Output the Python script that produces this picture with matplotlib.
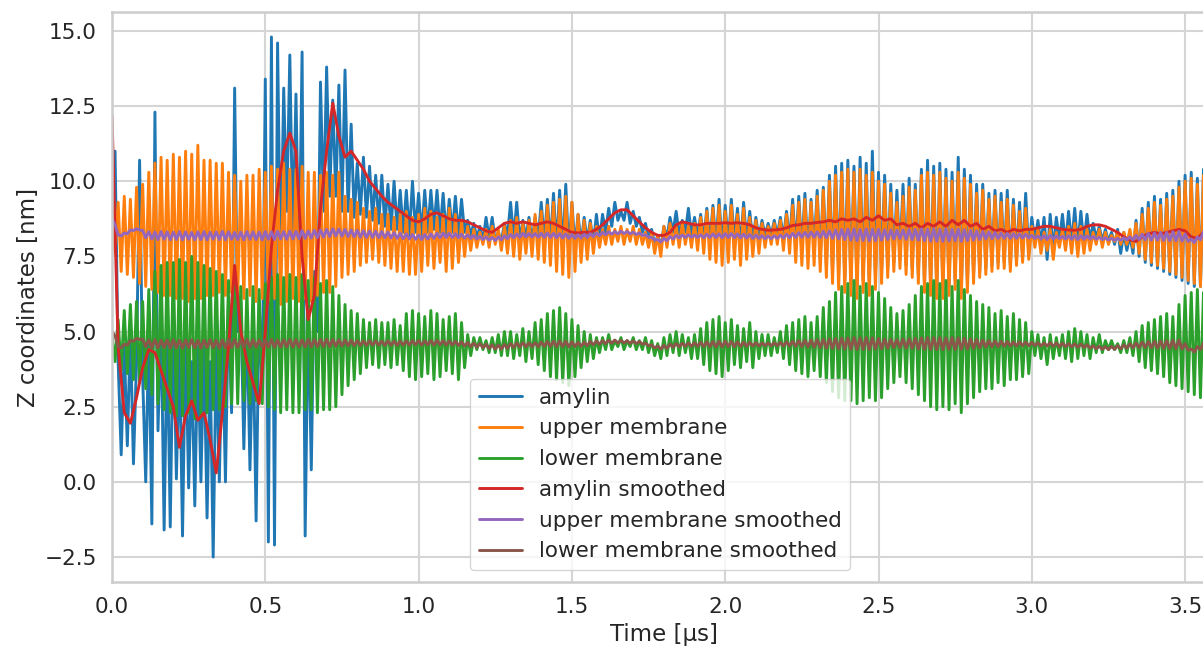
import numpy as np
import matplotlib
matplotlib.use("Agg")
import matplotlib.pyplot as plt
import seaborn as sns

# ---------------- data ----------------
dt = 0.01  # sampling step of the trajectory [µs]

# upper membrane: peak / trough value of every 0.02 µs oscillation cycle
upper_hi = [9.2, 9.3, 9.5, 9.4, 9.8, 9.9, 10.3, 10.6, 10.8, 10.7,
            10.9, 10.8, 11.0, 10.9, 11.2, 10.7, 10.7, 10.6, 10.6, 10.3,
            10.2, 10.0, 10.2, 10.2, 10.4, 10.3, 10.5, 10.4, 10.6, 10.4,
            10.4, 10.5, 10.3, 10.3, 10.2, 10.3, 10.2, 10.3, 9.5, 9.4,
            9.3, 9.1, 9.0, 9.1, 8.9, 8.9, 8.8, 8.9, 9.0, 8.8,
            8.9, 9.1, 9.0, 8.8, 8.9, 9.1, 8.9, 8.7, 8.5, 8.4,
            8.3, 8.4, 8.5, 8.4, 8.5, 8.7, 8.8, 8.6, 8.7, 8.9,
            9.0, 9.2, 9.3, 9.4, 9.5, 9.3, 8.9, 8.7, 8.6, 8.5,
            8.4, 8.5, 8.4, 8.5, 8.4, 8.5, 8.4, 8.3, 8.3, 8.2,
            8.5, 8.6, 8.5, 8.6, 8.5, 8.6, 8.8, 9.0, 9.1, 9.2,
            9.0, 9.2, 8.9, 9.1, 8.8, 8.7, 8.6, 8.5, 8.6, 8.7,
            8.9, 9.2, 9.3, 9.4, 9.3, 9.5, 9.7, 10.0, 10.2, 10.3,
            10.4, 10.3, 10.4, 10.2, 10.3, 10.0, 9.9, 9.6, 9.3, 9.5,
            9.8, 9.7, 10.2, 10.3, 10.2, 10.3, 10.1, 10.0, 10.3, 10.1,
            9.9, 9.6, 9.7, 9.4, 9.5, 9.3, 9.4, 9.2, 9.0, 9.1,
            8.5, 8.4, 8.3, 8.4, 8.3, 8.4, 8.5, 8.6, 8.5, 8.4,
            8.3, 8.4, 8.3, 8.2, 8.3, 8.3, 8.4, 8.6, 8.9, 9.1,
            9.3, 9.2, 9.4, 9.5, 9.8, 10.0, 10.1, 9.9, 10.2]
upper_lo = [7.6, 7.0, 6.9, 6.8, 6.6, 6.5, 6.4, 6.3, 6.2, 6.2,
            6.1, 6.1, 6.0, 6.1, 6.1, 6.2, 6.2, 6.3, 6.2, 6.3,
            6.2, 6.1, 6.2, 6.0, 6.1, 6.0, 6.1, 5.9, 6.0, 6.1,
            6.0, 6.1, 6.0, 6.2, 6.3, 6.3, 6.5, 6.8, 6.9, 7.0,
            7.2, 7.3, 7.4, 7.3, 7.2, 7.1, 7.0, 7.0, 6.9, 6.9,
            7.0, 7.2, 7.1, 7.3, 7.0, 7.1, 7.3, 7.5, 7.7, 7.8,
            7.9, 7.8, 7.9, 7.7, 7.6, 7.5, 7.4, 7.6, 7.5, 7.4,
            7.3, 7.2, 7.0, 6.9, 6.8, 7.0, 7.3, 7.4, 7.6, 7.8,
            7.9, 7.9, 8.0, 7.9, 8.0, 7.9, 7.9, 7.8, 7.6, 7.5,
            7.8, 7.9, 7.8, 7.9, 7.8, 7.7, 7.6, 7.4, 7.3, 7.2,
            7.3, 7.4, 7.2, 7.4, 7.5, 7.6, 7.8, 7.9, 7.9, 7.7,
            7.6, 7.3, 7.2, 7.1, 7.2, 7.0, 6.8, 6.6, 6.4, 6.3,
            6.2, 6.1, 6.3, 6.2, 6.4, 6.6, 6.8, 7.0, 7.1, 6.9,
            6.8, 6.6, 6.3, 6.2, 6.1, 6.1, 6.2, 6.4, 6.1, 6.3,
            6.6, 6.8, 6.9, 7.0, 7.1, 7.1, 7.0, 7.2, 7.3, 7.4,
            7.8, 7.6, 7.7, 7.4, 7.8, 7.7, 7.6, 7.5, 7.6, 7.7,
            7.9, 7.8, 7.9, 8.0, 7.9, 7.9, 7.8, 7.6, 7.4, 7.3,
            7.2, 7.1, 7.0, 6.9, 6.8, 6.7, 6.6, 6.5, 6.5]

# lower membrane
lower_hi = [4.9, 5.4, 5.7, 5.9, 6.0, 6.0, 6.4, 7.0, 7.2, 7.3,
            7.3, 7.4, 7.3, 7.5, 7.3, 7.2, 7.1, 7.0, 6.9, 6.7,
            6.6, 6.5, 6.4, 6.5, 6.4, 6.6, 6.8, 6.9, 6.8, 6.9,
            6.8, 6.9, 6.7, 6.8, 6.6, 6.7, 6.5, 6.2, 5.9, 5.7,
            5.6, 5.4, 5.3, 5.4, 5.3, 5.3, 5.4, 5.2, 5.6, 5.7,
            5.6, 5.5, 5.7, 5.6, 5.4, 5.5, 5.6, 5.3, 4.9, 4.8,
            4.8, 4.7, 4.8, 4.9, 5.0, 5.0, 4.9, 5.1, 5.0, 5.3,
            5.4, 5.6, 5.7, 5.8, 5.6, 5.4, 5.2, 5.0, 4.9, 4.8,
            4.8, 4.9, 4.7, 4.8, 4.7, 4.8, 4.7, 4.8, 4.7, 4.6,
            4.8, 4.9, 5.0, 4.9, 4.8, 4.9, 5.1, 5.3, 5.4, 5.5,
            5.3, 5.4, 5.2, 5.1, 5.3, 5.0, 4.9, 4.9, 4.8, 5.0,
            5.2, 5.3, 5.4, 5.5, 5.3, 5.5, 5.8, 6.0, 6.3, 6.5,
            6.6, 6.7, 6.5, 6.6, 6.5, 6.3, 6.1, 5.8, 5.6, 5.7,
            5.9, 6.2, 6.5, 6.6, 6.7, 6.6, 6.7, 6.5, 6.7, 6.4,
            6.2, 6.0, 5.9, 5.8, 5.6, 5.7, 5.5, 5.6, 5.4, 5.3,
            5.0, 4.9, 4.8, 4.9, 4.8, 4.9, 5.0, 5.1, 5.0, 4.9,
            4.8, 4.9, 4.7, 4.7, 4.6, 4.7, 4.8, 5.0, 5.2, 5.3,
            5.4, 5.5, 5.6, 5.5, 5.9, 6.2, 6.3, 6.4, 6.3]
lower_lo = [4.0, 3.7, 3.6, 3.4, 3.3, 3.1, 2.9, 2.6, 2.4, 2.3,
            2.2, 2.2, 2.3, 2.1, 2.2, 2.3, 2.4, 2.4, 2.5, 2.6,
            2.6, 2.7, 2.6, 2.7, 2.6, 2.5, 2.4, 2.3, 2.4, 2.3,
            2.3, 2.4, 2.4, 2.3, 2.4, 2.4, 2.5, 2.9, 3.2, 3.4,
            3.6, 3.8, 3.9, 3.8, 3.9, 3.8, 3.9, 3.7, 3.5, 3.4,
            3.5, 3.6, 3.4, 3.5, 3.7, 3.6, 3.4, 3.8, 4.2, 4.4,
            4.4, 4.3, 4.3, 4.2, 4.2, 4.1, 4.2, 4.0, 4.1, 3.9,
            3.7, 3.5, 3.4, 3.3, 3.2, 3.5, 3.8, 4.0, 4.1, 4.3,
            4.4, 4.4, 4.5, 4.4, 4.5, 4.4, 4.4, 4.3, 4.2, 4.1,
            4.2, 4.3, 4.2, 4.3, 4.1, 4.1, 3.9, 3.7, 3.6, 3.5,
            3.7, 3.9, 3.8, 4.0, 3.8, 4.1, 4.2, 4.2, 4.3, 4.1,
            3.9, 3.7, 3.6, 3.5, 3.7, 3.5, 3.3, 3.0, 2.8, 2.7,
            2.7, 2.6, 2.7, 2.8, 2.7, 2.8, 3.1, 3.3, 3.5, 3.3,
            3.1, 2.9, 2.7, 2.5, 2.4, 2.5, 2.4, 2.6, 2.3, 2.6,
            2.8, 3.0, 3.1, 3.1, 3.3, 3.2, 3.4, 3.4, 3.5, 3.6,
            4.2, 4.1, 3.9, 4.1, 4.2, 4.1, 4.0, 4.1, 4.2, 4.1,
            4.3, 4.3, 4.4, 4.4, 4.3, 4.3, 4.2, 4.0, 3.8, 3.7,
            3.6, 3.5, 3.3, 3.2, 3.1, 3.0, 2.9, 2.8, 2.8]

# amylin: first 0.8 µs sample by sample (irregular), afterwards peak / trough per cycle
amylin_early = [9.0, 11.0, 4.0, 0.9, 4.5, 1.2, 5.0, 0.6, 4.0, 10.7,
                3.5, 0.0, 5.0, -1.4, 12.3, 1.7, 5.5, -1.6, 5.0, -1.5,
                5.5, 0.1, 4.5, -1.8, 5.0, -0.2, 4.0, -0.8, 4.5, 0.0,
                4.5, -1.2, 4.0, -2.5, 4.5, 0.0, 5.0, 0.0, 6.0, 2.3,
                13.1, 5.0, 6.0, 1.1, 5.5, 0.4, 5.0, -1.3, 6.0, 3.0,
                13.4, -2.0, 14.8, -2.1, 14.6, 7.0, 13.1, 9.0, 14.2, 8.0,
                12.9, 7.0, 14.3, -1.8, 6.0, 0.4, 7.0, 5.0, 13.3, 9.0,
                13.8, 9.5, 12.7, 9.5, 13.2, 9.0, 13.7, 9.0, 11.9, 8.8]
amylin_hi = [10.6, 10.8, 10.5, 10.2, 10.2, 9.9, 10.0, 9.7, 9.7, 10.0,
             9.6, 9.7, 9.7, 9.7, 9.6, 9.4, 9.5, 9.4, 8.7, 8.6,
             8.5, 8.8, 8.8, 8.3, 8.6, 9.3, 9.3, 8.7, 8.8, 8.8,
             9.3, 9.4, 9.6, 9.7, 9.9, 9.3, 8.9, 8.8, 8.7, 8.9,
             8.9, 9.1, 9.3, 9.0, 9.3, 9.0, 8.8, 8.6, 8.4, 8.2,
             8.5, 8.8, 9.0, 8.7, 9.1, 8.8, 8.9, 9.1, 9.2, 9.4,
             9.2, 9.4, 9.1, 9.3, 9.0, 8.8, 8.7, 8.6, 8.7, 8.8,
             9.0, 9.4, 9.5, 9.6, 9.4, 9.7, 9.8, 10.2, 10.5, 10.6,
             10.7, 10.5, 10.8, 10.6, 11.0, 10.3, 10.2, 9.9, 9.7, 9.9,
             10.1, 9.9, 10.4, 10.7, 10.5, 10.6, 10.4, 10.3, 10.8, 10.4,
             10.2, 9.9, 9.9, 9.6, 9.7, 9.6, 9.7, 9.4, 9.3, 9.6,
             8.8, 8.7, 8.8, 8.9, 8.8, 8.9, 9.0, 9.1, 9.0, 8.9,
             8.6, 8.5, 8.4, 8.3, 8.4, 8.3, 8.2, 8.7, 9.1, 9.3,
             9.5, 9.4, 9.6, 9.7, 10.0, 10.2, 10.3, 10.1, 10.4]
amylin_lo = [8.9, 8.8, 8.7, 8.6, 8.5, 8.4, 8.4, 8.3, 8.2, 8.3,
             8.2, 8.3, 8.4, 8.3, 8.2, 8.3, 8.2, 8.3, 8.2, 8.1,
             8.0, 8.1, 8.0, 8.0, 8.2, 8.1, 8.0, 8.1, 8.0, 8.1,
             8.0, 7.9, 7.8, 7.7, 7.6, 7.8, 7.9, 8.0, 7.9, 8.0,
             8.3, 8.5, 8.7, 8.7, 8.6, 8.5, 8.3, 8.1, 7.9, 7.8,
             8.1, 8.3, 8.2, 8.3, 8.2, 8.1, 8.0, 7.9, 7.9, 7.8,
             7.9, 8.0, 7.8, 8.0, 8.0, 8.1, 8.2, 8.2, 8.2, 8.1,
             8.0, 7.8, 7.7, 7.6, 7.7, 7.4, 7.2, 7.0, 6.9, 6.7,
             6.6, 6.5, 6.7, 6.6, 6.8, 7.0, 7.1, 7.3, 7.4, 7.2,
             7.1, 6.9, 6.6, 6.5, 6.4, 6.4, 6.5, 6.7, 6.3, 6.6,
             6.9, 7.0, 7.1, 7.2, 7.3, 7.3, 7.2, 7.4, 7.5, 7.6,
             8.0, 7.9, 7.4, 7.7, 8.0, 7.9, 7.9, 7.8, 7.9, 8.0,
             8.1, 8.0, 8.0, 7.9, 7.6, 7.7, 7.6, 7.5, 7.3, 7.2,
             7.1, 7.0, 6.9, 6.8, 6.7, 6.6, 6.5, 6.5, 6.4]

# amylin smoothed, one value every 0.02 µs
amylin_smooth = [12.2, 4.5, 2.3, 1.95, 2.8, 3.8, 4.4, 4.3, 3.7, 3.1,
                 2.5, 1.15, 2.2, 2.7, 2.05, 2.3, 1.4, 0.3, 2.3, 4.5,
                 7.2, 5.0, 4.0, 3.3, 2.6, 5.0, 7.8, 9.7, 11.0, 11.6,
                 11.0, 7.5, 5.4, 6.2, 9.1, 11.0, 12.6, 11.5, 10.8, 11.0,
                 10.7, 10.4, 10.0, 9.75, 9.5, 9.3, 9.15, 9.0, 8.85, 8.7,
                 8.65, 8.75, 8.9, 8.95, 8.85, 8.75, 8.7, 8.7, 8.65, 8.55,
                 8.45, 8.35, 8.3, 8.45, 8.6, 8.65, 8.6, 8.65, 8.6, 8.55,
                 8.6, 8.65, 8.6, 8.5, 8.4, 8.3, 8.28, 8.3, 8.3, 8.4,
                 8.55, 8.75, 8.95, 9.05, 9.05, 8.85, 8.65, 8.45, 8.3, 8.2,
                 8.2, 8.3, 8.55, 8.65, 8.6, 8.55, 8.55, 8.6, 8.6, 8.6,
                 8.62, 8.6, 8.62, 8.6, 8.55, 8.45, 8.4, 8.37, 8.38, 8.4,
                 8.45, 8.53, 8.55, 8.6, 8.6, 8.63, 8.65, 8.7, 8.65, 8.75,
                 8.7, 8.75, 8.65, 8.8, 8.7, 8.85, 8.7, 8.75, 8.55, 8.6,
                 8.5, 8.6, 8.45, 8.6, 8.5, 8.65, 8.5, 8.7, 8.55, 8.7,
                 8.5, 8.6, 8.4, 8.5, 8.35, 8.4, 8.3, 8.4, 8.35, 8.4,
                 8.4, 8.45, 8.5, 8.5, 8.45, 8.4, 8.38, 8.37, 8.4, 8.5,
                 8.55, 8.55, 8.5, 8.4, 8.3, 8.15, 8.05, 8.0, 8.15, 8.25,
                 8.3, 8.25, 8.3, 8.35, 8.4, 8.35, 8.15, 8.1, 8.3]

# upper membrane smoothed: peak / trough per cycle
upper_s_hi = [8.75, 8.22, 8.28, 8.38, 8.42, 8.36, 8.32, 8.31, 8.33, 8.32,
              8.31, 8.33, 8.32, 8.3, 8.32, 8.33, 8.31, 8.32, 8.34, 8.32,
              8.3, 8.31, 8.33, 8.32, 8.31, 8.33, 8.32, 8.34, 8.33, 8.35,
              8.34, 8.36, 8.35, 8.37, 8.38, 8.4, 8.42, 8.41, 8.4, 8.38,
              8.37, 8.36, 8.35, 8.34, 8.33, 8.31, 8.29, 8.27, 8.25, 8.23,
              8.21, 8.23, 8.25, 8.27, 8.28, 8.27, 8.26, 8.24, 8.22, 8.2,
              8.17, 8.15, 8.13, 8.15, 8.19, 8.23, 8.25, 8.27, 8.26, 8.26,
              8.27, 8.28, 8.27, 8.26, 8.25, 8.23, 8.22, 8.24, 8.26, 8.28,
              8.3, 8.32, 8.33, 8.34, 8.33, 8.31, 8.28, 8.22, 8.13, 8.06,
              8.1, 8.16, 8.2, 8.21, 8.22, 8.21, 8.22, 8.24, 8.25, 8.25,
              8.26, 8.26, 8.25, 8.24, 8.23, 8.21, 8.19, 8.18, 8.19, 8.21,
              8.24, 8.27, 8.29, 8.3, 8.31, 8.32, 8.34, 8.36, 8.38, 8.4,
              8.41, 8.42, 8.4, 8.42, 8.41, 8.4, 8.39, 8.38, 8.37, 8.38,
              8.39, 8.4, 8.42, 8.41, 8.42, 8.41, 8.42, 8.4, 8.41, 8.39,
              8.37, 8.35, 8.33, 8.32, 8.3, 8.28, 8.27, 8.26, 8.25, 8.24,
              8.2, 8.18, 8.19, 8.2, 8.18, 8.17, 8.19, 8.2, 8.19, 8.18,
              8.16, 8.14, 8.12, 8.1, 8.1, 8.12, 8.15, 8.2, 8.24, 8.27,
              8.28, 8.3, 8.3, 8.32, 8.33, 8.25, 8.08, 8.15, 8.32]
upper_s_lo = [8.55, 8.18, 8.25, 8.36, 8.38, 8.12, 8.08, 8.06, 8.07, 8.05,
              8.06, 8.05, 8.07, 8.05, 8.06, 8.05, 8.07, 8.06, 8.05, 8.07,
              8.06, 8.05, 8.07, 8.06, 8.05, 8.07, 8.06, 8.08, 8.07, 8.08,
              8.09, 8.1, 8.11, 8.12, 8.14, 8.16, 8.18, 8.17, 8.16, 8.15,
              8.14, 8.13, 8.13, 8.12, 8.12, 8.11, 8.1, 8.09, 8.08, 8.07,
              8.06, 8.08, 8.1, 8.12, 8.13, 8.13, 8.12, 8.11, 8.1, 8.08,
              8.06, 8.04, 8.03, 8.05, 8.09, 8.12, 8.14, 8.15, 8.15, 8.14,
              8.13, 8.13, 8.12, 8.11, 8.1, 8.1, 8.11, 8.13, 8.16, 8.19,
              8.22, 8.24, 8.25, 8.26, 8.25, 8.23, 8.2, 8.14, 8.05, 7.98,
              8.02, 8.08, 8.12, 8.13, 8.14, 8.13, 8.12, 8.13, 8.13, 8.12,
              8.13, 8.12, 8.12, 8.11, 8.1, 8.1, 8.09, 8.09, 8.1, 8.11,
              8.12, 8.13, 8.14, 8.14, 8.14, 8.13, 8.12, 8.1, 8.08, 8.06,
              8.04, 8.02, 8.03, 8.01, 8.02, 8.04, 8.06, 8.08, 8.09, 8.07,
              8.06, 8.04, 8.02, 8.0, 8.01, 8.0, 8.01, 8.02, 8.0, 8.02,
              8.04, 8.06, 8.08, 8.09, 8.1, 8.1, 8.1, 8.1, 8.11, 8.11,
              8.1, 8.08, 8.06, 8.08, 8.09, 8.08, 8.07, 8.06, 8.07, 8.08,
              8.07, 8.06, 8.05, 8.04, 8.04, 8.05, 8.05, 8.06, 8.05, 8.04,
              8.04, 8.03, 8.02, 8.02, 8.01, 8.0, 7.96, 8.05, 8.2]

# lower membrane smoothed: peak / trough per cycle
lower_s_hi = [5.0, 4.5, 4.58, 4.7, 4.77, 4.74, 4.72, 4.73, 4.71, 4.72,
              4.73, 4.71, 4.72, 4.73, 4.71, 4.72, 4.73, 4.71, 4.72, 4.74,
              4.73, 4.72, 4.74, 4.73, 4.72, 4.73, 4.74, 4.72, 4.73, 4.74,
              4.73, 4.72, 4.74, 4.73, 4.74, 4.75, 4.74, 4.73, 4.72, 4.71,
              4.7, 4.69, 4.7, 4.69, 4.68, 4.69, 4.68, 4.68, 4.69, 4.7,
              4.7, 4.69, 4.7, 4.71, 4.7, 4.69, 4.68, 4.66, 4.64, 4.62,
              4.6, 4.58, 4.56, 4.55, 4.57, 4.6, 4.62, 4.63, 4.62, 4.63,
              4.65, 4.67, 4.68, 4.69, 4.68, 4.66, 4.64, 4.65, 4.67, 4.69,
              4.7, 4.71, 4.72, 4.71, 4.7, 4.69, 4.67, 4.62, 4.55, 4.52,
              4.54, 4.58, 4.6, 4.61, 4.62, 4.63, 4.64, 4.66, 4.67, 4.68,
              4.68, 4.67, 4.66, 4.65, 4.64, 4.63, 4.62, 4.62, 4.63, 4.64,
              4.66, 4.68, 4.7, 4.71, 4.72, 4.73, 4.74, 4.76, 4.77, 4.78,
              4.79, 4.8, 4.79, 4.8, 4.79, 4.77, 4.75, 4.74, 4.73, 4.75,
              4.76, 4.78, 4.79, 4.8, 4.8, 4.8, 4.79, 4.8, 4.79, 4.78,
              4.76, 4.74, 4.72, 4.7, 4.69, 4.68, 4.67, 4.66, 4.66, 4.65,
              4.64, 4.63, 4.62, 4.63, 4.62, 4.61, 4.6, 4.59, 4.58, 4.56,
              4.53, 4.51, 4.5, 4.51, 4.53, 4.56, 4.59, 4.62, 4.65, 4.67,
              4.68, 4.69, 4.7, 4.71, 4.72, 4.6, 4.42, 4.5, 4.62]
lower_s_lo = [4.85, 4.46, 4.55, 4.68, 4.74, 4.5, 4.47, 4.46, 4.47, 4.45,
              4.46, 4.45, 4.47, 4.46, 4.45, 4.47, 4.46, 4.45, 4.46, 4.47,
              4.47, 4.48, 4.47, 4.48, 4.49, 4.48, 4.47, 4.48, 4.49, 4.48,
              4.49, 4.48, 4.49, 4.5, 4.5, 4.5, 4.51, 4.52, 4.53, 4.53,
              4.54, 4.54, 4.55, 4.55, 4.54, 4.55, 4.54, 4.55, 4.55, 4.56,
              4.55, 4.56, 4.55, 4.56, 4.55, 4.55, 4.54, 4.52, 4.5, 4.48,
              4.46, 4.44, 4.42, 4.42, 4.44, 4.47, 4.49, 4.5, 4.5, 4.5,
              4.51, 4.51, 4.5, 4.5, 4.49, 4.5, 4.51, 4.53, 4.56, 4.58,
              4.6, 4.61, 4.62, 4.62, 4.61, 4.6, 4.58, 4.53, 4.46, 4.42,
              4.44, 4.48, 4.5, 4.51, 4.51, 4.51, 4.5, 4.5, 4.49, 4.49,
              4.5, 4.5, 4.51, 4.51, 4.52, 4.52, 4.53, 4.53, 4.53, 4.52,
              4.52, 4.51, 4.5, 4.49, 4.48, 4.47, 4.45, 4.44, 4.43, 4.42,
              4.41, 4.4, 4.41, 4.4, 4.42, 4.43, 4.45, 4.47, 4.47, 4.45,
              4.44, 4.42, 4.41, 4.4, 4.4, 4.4, 4.41, 4.4, 4.41, 4.42,
              4.44, 4.46, 4.48, 4.49, 4.5, 4.51, 4.52, 4.52, 4.53, 4.53,
              4.53, 4.52, 4.52, 4.51, 4.5, 4.5, 4.49, 4.48, 4.47, 4.45,
              4.43, 4.41, 4.4, 4.41, 4.43, 4.45, 4.46, 4.47, 4.47, 4.46,
              4.45, 4.44, 4.44, 4.43, 4.42, 4.38, 4.32, 4.4, 4.5]

labels = ["amylin", "upper membrane", "lower membrane",
          "amylin smoothed", "upper membrane smoothed", "lower membrane smoothed"]
x_ticks = [0.0, 0.5, 1.0, 1.5, 2.0, 2.5, 3.0, 3.5]
y_ticks = [-2.5, 0.0, 2.5, 5.0, 7.5, 10.0, 12.5, 15.0]


def interleave(hi, lo):
    n = min(len(hi), len(lo))
    out = np.empty(2 * n)
    out[0::2] = hi[:n]
    out[1::2] = lo[:n]
    return out


upper = interleave(upper_hi, upper_lo)
lower = interleave(lower_hi, lower_lo)
amylin = np.concatenate([amylin_early, interleave(amylin_hi, amylin_lo)])
upper_s = interleave(upper_s_hi, upper_s_lo)
lower_s = interleave(lower_s_hi, lower_s_lo)

t_up = np.arange(len(upper)) * dt
t_low = np.arange(len(lower)) * dt
t_am = np.arange(len(amylin)) * dt
t_ups = np.arange(len(upper_s)) * dt
t_lows = np.arange(len(lower_s)) * dt
t_ams = np.arange(len(amylin_smooth)) * 2 * dt

# ---------------- plot ----------------
sns.set_theme(style="whitegrid")
plt.rcParams["font.family"] = ["DejaVu Sans"]
plt.rcParams["axes.edgecolor"] = "#cccccc"
plt.rcParams["grid.color"] = "#d5d5d5"

W, H = 1203, 651
fig = plt.figure(figsize=(W / 100, H / 100), dpi=100)
ax_left, ax_bottom_px, ax_top_px = 112, 582, 12
xmax = 3.6
px_per_unit = 306.6
ax = fig.add_axes([ax_left / W, 1 - ax_bottom_px / H,
                   xmax * px_per_unit / W, (ax_bottom_px - ax_top_px) / H])

colors = ["#1f77b4", "#ff7f0e", "#2ca02c", "#d62728", "#9467bd", "#8c564b"]
lw = 2.1
ax.plot(t_am, amylin, color=colors[0], lw=lw, label=labels[0])
ax.plot(t_up, upper, color=colors[1], lw=lw, label=labels[1])
ax.plot(t_low, lower, color=colors[2], lw=lw, label=labels[2])
ax.plot(t_ams, amylin_smooth, color=colors[3], lw=lw, label=labels[3])
ax.plot(t_ups, upper_s, color=colors[4], lw=lw, label=labels[4])
ax.plot(t_lows, lower_s, color=colors[5], lw=lw, label=labels[5])

ax.set_xlim(0, xmax)
ax.set_ylim(-3.33, 15.63)
ax.set_xticks(x_ticks)
ax.set_yticks(y_ticks)
ax.tick_params(axis="both", labelsize=15.5, pad=5, colors="#262626")
ax.grid(True, lw=1.5)
for s in ax.spines.values():
    s.set_linewidth(1.8)
    s.set_color("#cccccc")

ax.set_xlabel("Time [µs]", fontsize=16.5, color="#262626", labelpad=4)
ax.set_ylabel("Z coordinates [nm]", fontsize=16.5, color="#262626", labelpad=3)

leg = ax.legend(loc="lower left", bbox_to_anchor=(470 / W, 1 - 570 / H),
                bbox_transform=fig.transFigure, borderaxespad=0,
                fontsize=15.5, labelspacing=0.5, handlelength=2.0,
                frameon=True, fancybox=True)
leg.get_frame().set_edgecolor("#cccccc")
leg.get_frame().set_alpha(0.8)
for txt in leg.get_texts():
    txt.set_color("#262626")

fig.savefig("out.png", dpi=100)
